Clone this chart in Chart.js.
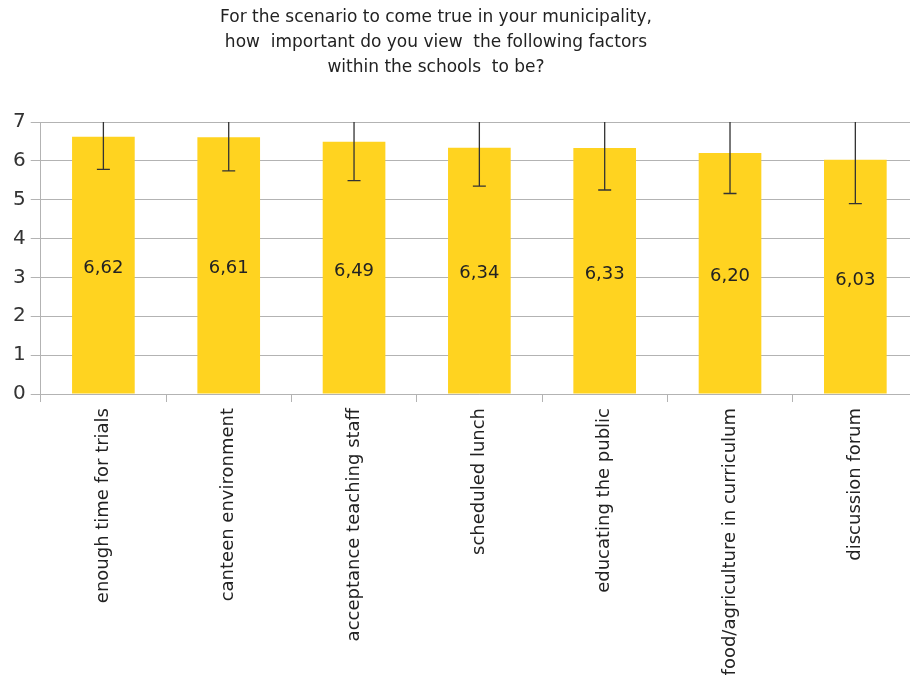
<!DOCTYPE html>
<html><head><meta charset="utf-8">
<script src="https://cdn.jsdelivr.net/npm/chart.js@4"></script>
<style>html,body{margin:0;padding:0;background:#fff;overflow:hidden}#wrap{width:918px;height:683px}</style>
</head><body><div id="wrap"><canvas id="c" width="918" height="683"></canvas></div>
<script>
const titleLines = ["For the scenario to come true in your municipality,", "how  important do you view  the following factors", "within the schools  to be?"];
const categories = ["enough time for trials", "canteen environment", "acceptance teaching staff", "scheduled lunch", "educating the public", "food/agriculture in curriculum", "discussion forum"];
const means = [6.62, 6.61, 6.49, 6.34, 6.33, 6.20, 6.03];
const stdDevs = [0.84, 0.87, 1.00, 0.99, 1.08, 1.04, 1.13];
const yTicks = [0, 1, 2, 3, 4, 5, 6, 7];

const FONT = "'DejaVu Sans', 'Liberation Sans', Arial, sans-serif";

const titlePlugin = {
  id: 'titleText',
  afterDraw(chart) {
    const ctx = chart.ctx;
    ctx.save();
    ctx.fillStyle = '#222';
    ctx.font = "17px " + FONT;
    ctx.textAlign = 'center';
    ctx.textBaseline = 'middle';
    titleLines.forEach((t, i) => ctx.fillText(t, 436, 18 + i * 25));
    ctx.restore();
  }
};

const errorBars = {
  id: 'errorBars',
  afterDatasetsDraw(chart) {
    const ctx = chart.ctx, y = chart.scales.y, meta = chart.getDatasetMeta(0);
    const area = chart.chartArea;
    ctx.save();
    ctx.strokeStyle = '#333';
    ctx.lineWidth = 1.3;
    meta.data.forEach((bar, i) => {
      const hi = means[i] + stdDevs[i], lo = means[i] - stdDevs[i];
      const yHi = Math.max(y.getPixelForValue(hi), area.top);
      const yLo = y.getPixelForValue(lo);
      ctx.beginPath();
      ctx.moveTo(bar.x, yHi); ctx.lineTo(bar.x, yLo);
      ctx.moveTo(bar.x - 6.5, yLo); ctx.lineTo(bar.x + 6.5, yLo);
      if (y.getPixelForValue(hi) >= area.top) { ctx.moveTo(bar.x - 6.5, yHi); ctx.lineTo(bar.x + 6.5, yHi); }
      ctx.stroke();
    });
    ctx.restore();
  }
};

const valueLabels = {
  id: 'valueLabels',
  afterDatasetsDraw(chart) {
    const ctx = chart.ctx, y = chart.scales.y, meta = chart.getDatasetMeta(0);
    ctx.save();
    ctx.fillStyle = '#222';
    ctx.font = "18px " + FONT;
    ctx.textAlign = 'center';
    ctx.textBaseline = 'middle';
    meta.data.forEach((bar, i) => {
      ctx.fillText(means[i].toFixed(2).replace('.', ','), bar.x, y.getPixelForValue(means[i] / 2) + 3);
    });
    ctx.restore();
  }
};

new Chart(document.getElementById('c'), {
  type: 'bar',
  data: {
    labels: categories,
    datasets: [{ data: means, backgroundColor: '#ffd320', borderWidth: 0, barPercentage: 0.5, categoryPercentage: 1.0 }]
  },
  options: {
    responsive: false,
    animation: false,
    devicePixelRatio: 1,
    layout: { padding: { left: 8, right: 0, top: 122, bottom: 0 } },
    plugins: {
      legend: { display: false },
      tooltip: { enabled: false },
      title: { display: false }
    },
    scales: {
      x: {
        afterFit(axis) { axis.height = 289; },
        grid: { offset: true, drawOnChartArea: false, drawTicks: true, tickLength: 8, color: '#b3b3b3' },
        border: { color: '#b3b3b3' },
        ticks: { color: '#222', font: { family: FONT, size: 18 }, minRotation: 90, maxRotation: 90, padding: 6 }
      },
      y: {
        min: 0, max: 7,
        afterBuildTicks(axis) { axis.ticks = yTicks.map(v => ({ value: v })); },
        grid: { color: '#b3b3b3', tickLength: 10 },
        border: { color: '#b3b3b3' },
        ticks: { color: '#333', font: { family: FONT, size: 20 }, padding: 5 }
      }
    }
  },
  plugins: [titlePlugin, errorBars, valueLabels]
});
</script></body></html>
